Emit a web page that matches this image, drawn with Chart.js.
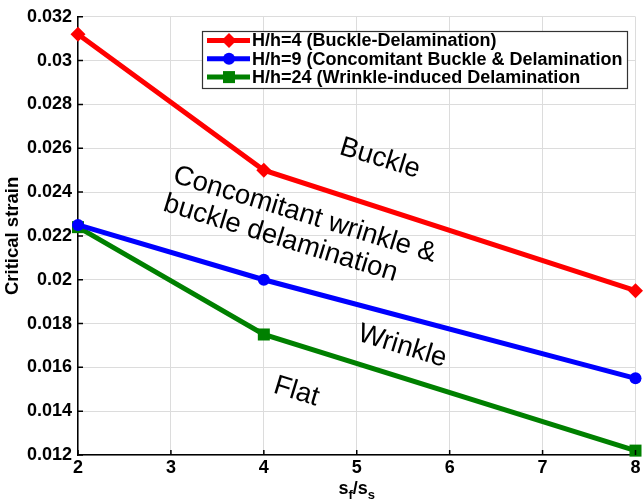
<!DOCTYPE html>
<html>
<head>
<meta charset="utf-8">
<script src="https://cdn.jsdelivr.net/npm/chart.js@4/dist/chart.umd.min.js"></script>
<style>
  html, body { margin: 0; padding: 0; background: #fff; }
  #wrap { width: 644px; height: 501px; position: relative; }
</style>
</head>
<body>
<div id="wrap"><canvas id="c" width="644" height="501"></canvas></div>
<script>
// Film/substrate stiffness ratio on the x axis
const ratios = [2, 4, 8];
// Critical strain for each thickness ratio
const buckleDelam = [0.0312, 0.0250, 0.0195];
const concomitant = [0.0225, 0.0200, 0.0155];
const wrinkleDelam = [0.0224, 0.0175, 0.0122];

const seriesLabels = [
  'H/h=4 (Buckle-Delamination)',
  'H/h=9 (Concomitant Buckle & Delamination',
  'H/h=24 (Wrinkle-induced Delamination'
];

const xTicks = [2, 3, 4, 5, 6, 7, 8];
const yTicks = [0.012, 0.014, 0.016, 0.018, 0.02, 0.022, 0.024, 0.026, 0.028, 0.03, 0.032];

// Region names written across the map
const regionLabels = ['Buckle', 'Concomitant wrinkle &', 'buckle delamination', 'Wrinkle', 'Flat'];
// Where each region name sits, in axis units
const regionAnchors = [
  { x: 5.25, y: 0.02553 },
  { x: 4.44, y: 0.02296 },
  { x: 4.18, y: 0.02188 },
  { x: 5.49, y: 0.01696 },
  { x: 4.35, y: 0.01489 }
];

const BOLD = 'bold 18px "Liberation Sans", Arial, sans-serif';

function pts(ys) { return ratios.map((x, i) => ({ x: x, y: ys[i] })); }

const styles = [
  { color: '#ff0000', pointStyle: 'rectRot', radius: 7.5 },
  { color: '#0000ff', pointStyle: 'circle', radius: 6 },
  { color: '#008000', pointStyle: 'rect', radius: 8.5 }
];
const seriesValues = [buckleDelam, concomitant, wrinkleDelam];

const datasets = seriesValues.map((vals, i) => ({
  label: seriesLabels[i],
  data: pts(vals),
  borderColor: styles[i].color,
  backgroundColor: styles[i].color,
  pointBackgroundColor: styles[i].color,
  pointBorderColor: styles[i].color,
  pointStyle: styles[i].pointStyle,
  pointRadius: styles[i].radius,
  pointBorderWidth: 0,
  borderWidth: 5,
  tension: 0,
  clip: false
}));

function drawMarker(ctx, st, x, y) {
  Chart.helpers.drawPoint(ctx, { pointStyle: st.pointStyle, radius: st.radius, rotation: 0, borderWidth: 0 }, x, y);
}

// Short inward tick marks on the left and bottom axes
const innerTicks = {
  id: 'innerTicks',
  afterDraw(chart) {
    const { ctx, chartArea: a, scales: { x, y } } = chart;
    ctx.save();
    ctx.strokeStyle = '#000';
    ctx.lineWidth = 1.5;
    ctx.beginPath();
    xTicks.forEach(v => {
      const px = x.getPixelForValue(v);
      ctx.moveTo(px, a.bottom);
      ctx.lineTo(px, a.bottom - 5);
    });
    yTicks.forEach(v => {
      const py = y.getPixelForValue(v);
      ctx.moveTo(a.left, py);
      ctx.lineTo(a.left + 5, py);
    });
    ctx.stroke();
    ctx.restore();
  }
};

// Rotated region names
const regionText = {
  id: 'regionText',
  afterDatasetsDraw(chart) {
    const { ctx, scales: { x, y } } = chart;
    ctx.save();
    ctx.fillStyle = '#000';
    ctx.font = '27.5px "Liberation Sans", Arial, sans-serif';
    ctx.textAlign = 'center';
    ctx.textBaseline = 'middle';
    regionLabels.forEach((t, i) => {
      const px = x.getPixelForValue(regionAnchors[i].x);
      const py = y.getPixelForValue(regionAnchors[i].y);
      ctx.save();
      ctx.translate(px, py);
      ctx.rotate(17 * Math.PI / 180);
      ctx.fillText(t, 0, 0);
      ctx.restore();
    });
    ctx.restore();
  }
};

// Boxed legend in the upper right, and axis titles
const legendBox = {
  id: 'legendBox',
  afterDraw(chart) {
    const ctx = chart.ctx;
    const bx = 202, by = 31, bw = 425, bh = 57;
    ctx.save();
    ctx.fillStyle = '#fff';
    ctx.fillRect(bx, by, bw, bh);
    ctx.strokeStyle = '#333';
    ctx.lineWidth = 1.2;
    ctx.strokeRect(bx + 0.5, by + 0.5, bw, bh);
    ctx.beginPath();
    ctx.rect(bx + 1, by + 1, bw - 3, bh - 1);
    ctx.clip();
    chart.data.datasets.forEach((ds, i) => {
      const ry = by + 9.5 + i * 18.3;
      const st = styles[i];
      ctx.strokeStyle = st.color;
      ctx.fillStyle = st.color;
      ctx.lineWidth = 5;
      ctx.beginPath();
      ctx.moveTo(207, ry);
      ctx.lineTo(250, ry);
      ctx.stroke();
      drawMarker(ctx, st, 229, ry);
      ctx.fillStyle = '#000';
      ctx.font = BOLD;
      ctx.textAlign = 'left';
      ctx.textBaseline = 'middle';
      ctx.fillText(ds.label, 252, ry + 1);
    });
    ctx.restore();

    // axis titles
    const a = chart.chartArea;
    ctx.save();
    ctx.fillStyle = '#000';
    ctx.font = 'bold 18.5px "Liberation Sans", Arial, sans-serif';
    ctx.textAlign = 'center';
    ctx.textBaseline = 'middle';
    ctx.translate(13, (a.top + a.bottom) / 2);
    ctx.rotate(-Math.PI / 2);
    ctx.fillText('Critical strain', 0, 0);
    ctx.restore();

    ctx.save();
    ctx.fillStyle = '#000';
    ctx.textBaseline = 'alphabetic';
    ctx.textAlign = 'left';
    const SUB = 'bold 13px "Liberation Sans", Arial, sans-serif';
    const parts = [['s', BOLD, 0], ['f', SUB, 5], ['/s', BOLD, 0], ['s', SUB, 5]];
    let total = 0;
    parts.forEach(p => { ctx.font = p[1]; total += ctx.measureText(p[0]).width; });
    let cx = (a.left + a.right) / 2 - total / 2;
    const base = 494;
    parts.forEach(p => {
      ctx.font = p[1];
      ctx.fillText(p[0], cx, base + p[2]);
      cx += ctx.measureText(p[0]).width;
    });
    ctx.restore();
  }
};

new Chart(document.getElementById('c'), {
  type: 'line',
  data: { datasets: datasets },
  options: {
    responsive: false,
    animation: false,
    devicePixelRatio: 1,
    layout: { padding: { top: 11, right: 7, left: 0, bottom: 0 } },
    plugins: { legend: { display: false }, tooltip: { enabled: false } },
    elements: { line: { borderCapStyle: 'butt', borderJoinStyle: 'miter' } },
    scales: {
      x: {
        type: 'linear',
        min: 2, max: 8,
        afterBuildTicks(s) { s.ticks = xTicks.map(v => ({ value: v })); },
        afterFit(s) { s.height = 46; },
        ticks: { font: { family: '"Liberation Sans", Arial, sans-serif', size: 18, weight: 'bold' }, color: '#000', padding: 2, maxRotation: 0 },
        grid: { color: '#dcdcdc', lineWidth: 1, drawTicks: false },
        border: { display: true, color: '#000', width: 1.5 }
      },
      y: {
        min: 0.012, max: 0.032,
        afterBuildTicks(s) { s.ticks = yTicks.map(v => ({ value: v })); },
        afterFit(s) { s.width = 78; },
        ticks: {
          font: { family: '"Liberation Sans", Arial, sans-serif', size: 18, weight: 'bold' },
          color: '#000', padding: 6,
          callback: v => String(Number(v.toFixed(3)))
        },
        grid: { color: '#dcdcdc', lineWidth: 1, drawTicks: false },
        border: { display: true, color: '#000', width: 1.5 }
      }
    }
  },
  plugins: [innerTicks, regionText, legendBox]
});
</script>
</body>
</html>
